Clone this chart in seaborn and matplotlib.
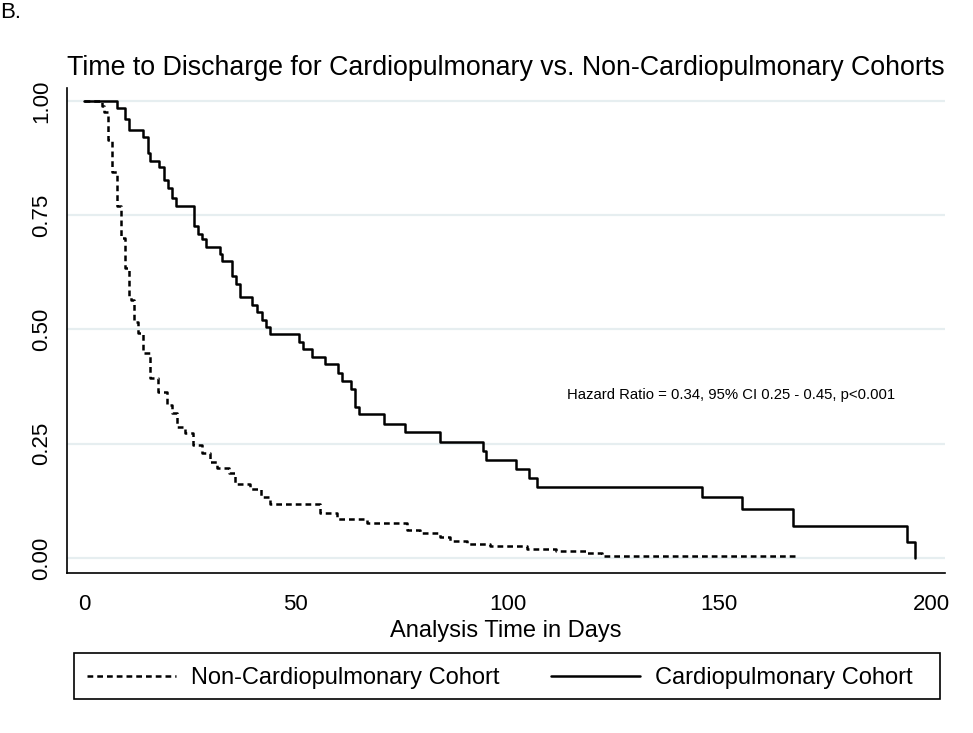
import numpy as np
import pandas as pd
import matplotlib
matplotlib.use("Agg")
import matplotlib.pyplot as plt
import seaborn as sns
from matplotlib.lines import Line2D
from matplotlib.patches import Rectangle

# Kaplan-Meier step values (days, survival)
cardio_days = [0, 7.7, 9.7, 10.7, 13.9, 15.0, 15.6, 17.8, 18.9, 19.8, 20.7, 21.7,
               26.0, 27.0, 27.9, 28.8, 32.0, 32.7, 34.9, 35.8, 36.8, 39.7, 40.9,
               42.0, 43.0, 43.9, 50.8, 51.8, 53.9, 56.9, 60.0, 61.0, 63.0, 64.0,
               65.0, 70.9, 75.9, 84.1, 94.1, 95.0, 102.0, 105.1, 107.0, 146.0,
               155.3, 167.3, 194.3, 196.2]
cardio_surv = [1.0, 0.985, 0.96, 0.937, 0.922, 0.886, 0.869, 0.855, 0.827, 0.81,
               0.787, 0.771, 0.726, 0.709, 0.697, 0.681, 0.665, 0.65, 0.618, 0.60,
               0.57, 0.554, 0.539, 0.521, 0.506, 0.49, 0.473, 0.457, 0.439, 0.424,
               0.405, 0.388, 0.369, 0.331, 0.314, 0.293, 0.275, 0.253, 0.235,
               0.214, 0.195, 0.176, 0.156, 0.133, 0.107, 0.07, 0.036, 0.0]

noncardio_days = [0, 4.2, 4.7, 5.6, 6.5, 7.7, 8.7, 9.7, 10.7, 11.1, 11.8, 12.8,
                  13.9, 15.6, 17.5, 19.7, 20.7, 21.9, 23.8, 25.8, 27.8, 29.8, 31.3,
                  34.3, 35.7, 39.2, 41.7, 43.9, 55.7, 59.8, 66.9, 76.2, 79.3, 84.1,
                  86.4, 90.4, 95.9, 104.5, 111.5, 118.7, 122.2, 168.0]
noncardio_surv = [1.0, 0.99, 0.975, 0.915, 0.845, 0.77, 0.70, 0.635, 0.57, 0.565,
                  0.517, 0.492, 0.448, 0.393, 0.364, 0.335, 0.317, 0.287, 0.273,
                  0.247, 0.229, 0.211, 0.196, 0.187, 0.162, 0.150, 0.134, 0.118,
                  0.098, 0.085, 0.076, 0.061, 0.054, 0.045, 0.038, 0.031, 0.026,
                  0.02, 0.015, 0.01, 0.005, 0.004]

x_ticks = [0, 50, 100, 150, 200]
y_ticks = [0.0, 0.25, 0.50, 0.75, 1.00]

sns.set_style("white")
plt.rcParams["font.family"] = ["Liberation Sans", "DejaVu Sans"]
plt.rcParams["text.color"] = "black"
plt.rcParams["axes.labelcolor"] = "black"

fig = plt.figure(figsize=(9.73, 7.33), dpi=100)
ax = fig.add_axes([0.0689, 0.2183, 0.9023, 0.6617])

for yv in y_ticks:
    ax.axhline(yv, color="#e6eef0", lw=1.6, zorder=0)

dash = (0, (2.3, 1.6))
sns.lineplot(x=noncardio_days, y=noncardio_surv, ax=ax, estimator=None,
             drawstyle="steps-post", color="black", lw=1.8, linestyle=dash)
sns.lineplot(x=cardio_days, y=cardio_surv, ax=ax, estimator=None,
             drawstyle="steps-post", color="black", lw=1.8)

ax.set_xlim(-4.0, 203.3)
ax.set_ylim(-0.0328, 1.0284)
ax.set_xticks(x_ticks)
ax.set_yticks(y_ticks)
ax.set_yticklabels([f"{v:.2f}" for v in y_ticks], rotation=90, va="center")
ax.tick_params(axis="both", direction="out", length=7, width=1.2, colors="black",
               labelsize=16)
ax.tick_params(axis="x", pad=8)
ax.tick_params(axis="y", pad=4)
for s in ["top", "right"]:
    ax.spines[s].set_visible(False)
for s in ["left", "bottom"]:
    ax.spines[s].set_color("black")
    ax.spines[s].set_linewidth(1.2)

ax.set_xlabel("Analysis Time in Days", fontsize=17, labelpad=4)
ax.set_ylabel("")
ax.set_title("Time to Discharge for Cardiopulmonary vs. Non-Cardiopulmonary Cohorts",
             fontsize=19.3, pad=9, color="black")
ax.text(114, 0.357, "Hazard Ratio = 0.34, 95% CI 0.25 - 0.45, p<0.001",
        fontsize=10.7, va="center", ha="left")

fig.text(0.0, 0.997, "B.", fontsize=16, va="top", ha="left")

# legend box (Stata style, below the plot)
fig.patches.append(Rectangle((74 / 973, 34 / 733), 866 / 973, 46 / 733,
                             transform=fig.transFigure, fill=False,
                             edgecolor="black", lw=1.2))
handles = [Line2D([], [], color="black", lw=1.8, linestyle=dash),
           Line2D([], [], color="black", lw=1.8)]
leg = fig.legend(handles, ["Non-Cardiopulmonary Cohort", "Cardiopulmonary Cohort"],
                 loc="center left", bbox_to_anchor=(87 / 973, 55 / 733),
                 ncol=2, fontsize=17, handlelength=3.75, handletextpad=0.65,
                 columnspacing=2.2, frameon=False, borderpad=0, borderaxespad=0,
                 labelcolor="black")

fig.savefig("out.png", dpi=100)
